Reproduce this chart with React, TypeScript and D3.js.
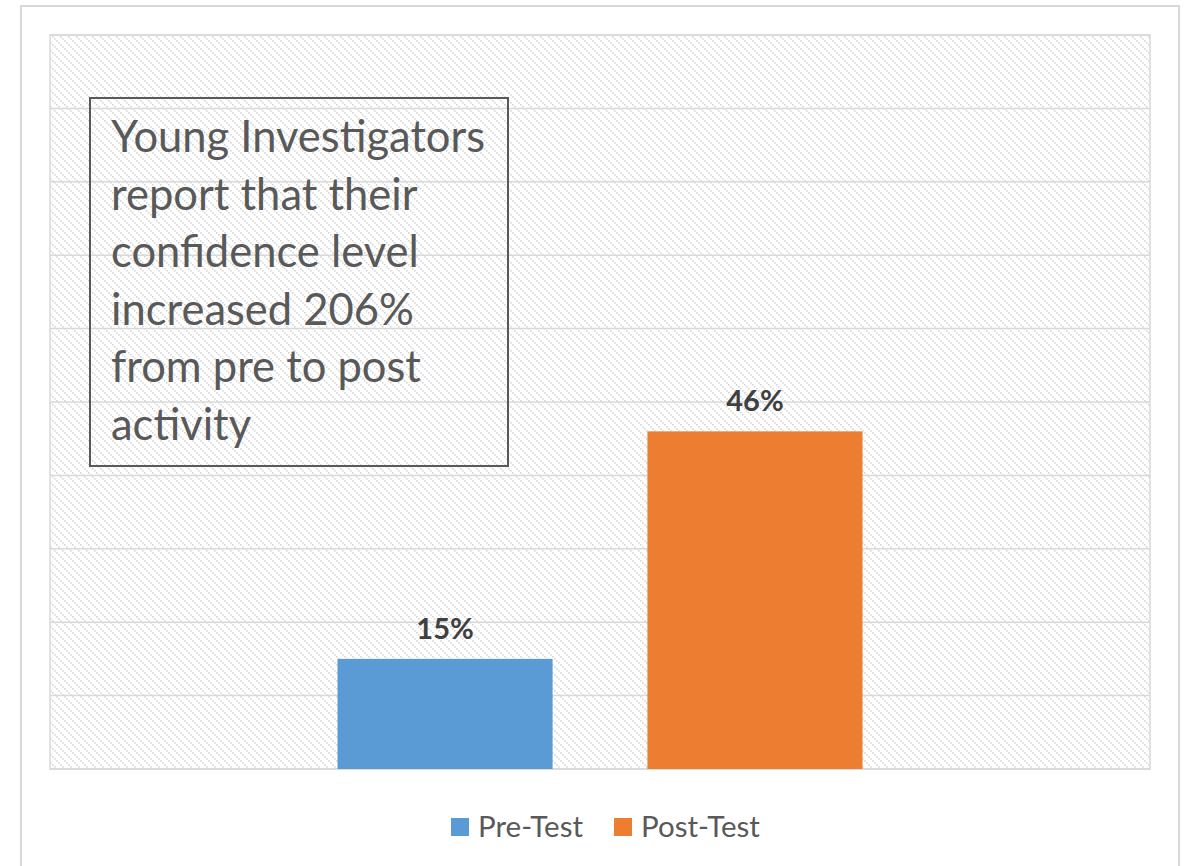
import React from "react";
import * as d3 from "d3";

const categories = ["Confidence"];
const seriesNames = ["Pre-Test", "Post-Test"];
const seriesValues = [0.15, 0.46];
const seriesColors = ["#5B9BD5", "#ED7D31"];
const yTicks = [0, 0.1, 0.2, 0.3, 0.4, 0.5, 0.6, 0.7, 0.8, 0.9, 1.0];
const annotationLines = [
  "Young Investigators",
  "report that their",
  "confidence level",
  "increased 206%",
  "from pre to post",
  "activity",
];

const W = 1186;
const H = 866;
const plot = { left: 50, top: 35, right: 1150, bottom: 769 };
const FONT = "Lato, 'Open Sans', sans-serif";
const hatchSteps = [0, 2, 4, 6];

export default function App() {
  const y = d3.scaleLinear().domain([0, 1]).range([plot.bottom, plot.top]);
  const x0 = d3
    .scaleBand<string>()
    .domain(categories)
    .range([plot.left, plot.right])
    .paddingInner(0)
    .paddingOuter(0.5476);
  const x1 = d3
    .scaleBand<string>()
    .domain(seriesNames)
    .range([0, x0.bandwidth()])
    .paddingInner(0.306)
    .paddingOuter(0);

  return (
    <svg
      width={W}
      height={H}
      style={{ position: "absolute", left: 0, top: 0, background: "#fff" }}
    >
      <defs>
        <pattern id="hatch" x={0} y={0} width={8} height={8} patternUnits="userSpaceOnUse">
          <rect width={8} height={8} fill="#fff" />
          {hatchSteps.map((s) => (
            <rect key={s} x={s} y={s} width={1.6} height={1.6} fill="#d6d6d6" />
          ))}
        </pattern>
      </defs>
      {/* outer chart border */}
      <rect x={21} y={6} width={1158} height={880} fill="none" stroke="#d9d9d9" strokeWidth={2} />
      {/* plot area */}
      <rect
        x={plot.left}
        y={plot.top}
        width={plot.right - plot.left}
        height={plot.bottom - plot.top}
        fill="url(#hatch)"
        stroke="#d9d9d9"
        strokeWidth={1.5}
      />
      {yTicks.map((t) => (
        <line
          key={t}
          x1={plot.left}
          x2={plot.right}
          y1={y(t)}
          y2={y(t)}
          stroke="#d9d9d9"
          strokeWidth={1.5}
        />
      ))}
      {categories.map((c) => (
        <g key={c} transform={`translate(${x0(c)},0)`}>
          {seriesNames.map((s, i) => (
            <g key={s}>
              <rect
                x={x1(s)}
                y={y(seriesValues[i])}
                width={x1.bandwidth()}
                height={y(0) - y(seriesValues[i])}
                fill={seriesColors[i]}
              />
              <text
                x={(x1(s) as number) + x1.bandwidth() / 2}
                y={y(seriesValues[i]) - 20}
                textAnchor="middle"
                fontFamily={FONT}
                fontWeight="bold"
                fontSize={29}
                fill="#404040"
              >
                {d3.format(".0%")(seriesValues[i])}
              </text>
            </g>
          ))}
        </g>
      ))}
      {/* annotation box */}
      <rect x={90} y={98} width={418} height={368} fill="none" stroke="#595959" strokeWidth={2} />
      {annotationLines.map((l, i) => (
        <text
          key={i}
          x={111}
          y={152 + i * 57.6}
          fontFamily={FONT}
          fontSize={43.5}
          fill="#595959"
        >
          {l}
        </text>
      ))}
      {/* legend */}
      <rect x={451} y={818} width={18} height={18} fill={seriesColors[0]} />
      <text x={478} y={837} fontFamily={FONT} fontSize={29.5} fill="#595959">
        {seriesNames[0]}
      </text>
      <rect x={614} y={818} width={18} height={18} fill={seriesColors[1]} />
      <text x={641} y={837} fontFamily={FONT} fontSize={29.5} fill="#595959">
        {seriesNames[1]}
      </text>
    </svg>
  );
}
